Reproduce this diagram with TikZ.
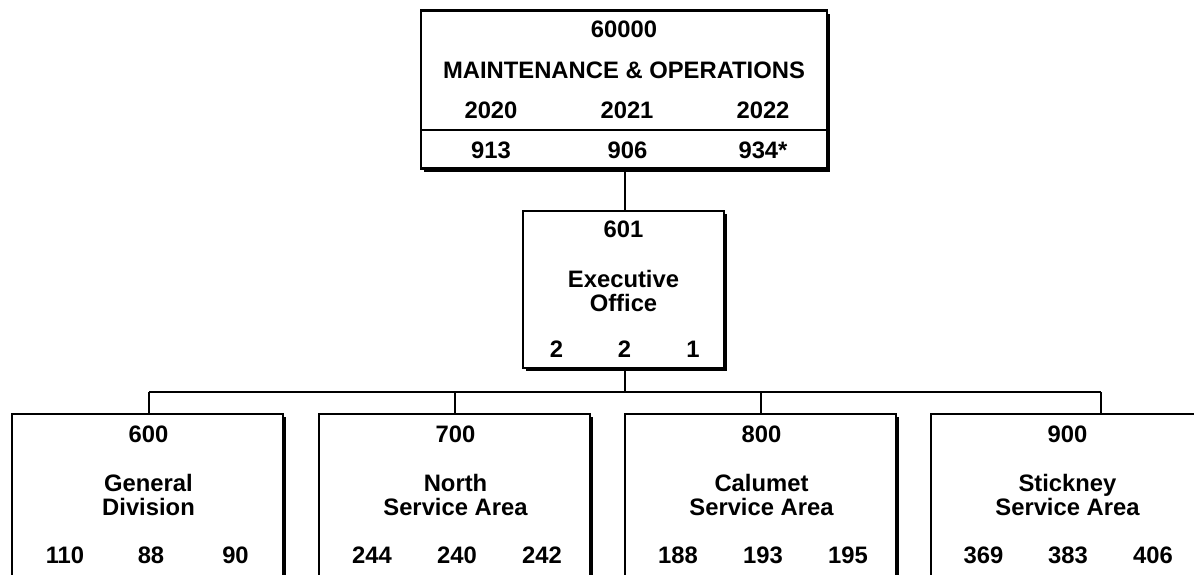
\documentclass[tikz,border=0pt]{standalone}
\usepackage{fontspec}
\setmainfont{Liberation Sans}
\usetikzlibrary{shadows, positioning}

\tikzset{
  unitbox/.style={draw, line width=1.2pt, fill=white, rectangle, inner sep=0pt,
    drop shadow={shadow xshift=1.6pt, shadow yshift=-1.6pt, fill=black, opacity=1}},
  lbl/.style={font=\fontsize{11.9}{12}\selectfont\bfseries, inner sep=0pt, anchor=base},
  unitname/.style={font=\fontsize{11.9}{12}\selectfont\bfseries, inner sep=0pt, align=center},
  link/.style={line width=1pt}
}

\begin{document}
\begin{tikzpicture}[x=0.5pt, y=-0.5pt]
  \useasboundingbox (0,0) rectangle (1194,574);
  \clip (0,0) rectangle (1194,574);

  % top box
  \node[unitbox, minimum width=203pt, minimum height=79pt] (mo) at (624,89.5) {};
  \draw[line width=1.2pt] (421,130) -- (827,130);
  \node[lbl] (mocode) at (624,37.5) {60000};
  \node[lbl] (moname) at (624,78) {MAINTENANCE \& OPERATIONS};
  \node[lbl] (moy1) at (491,118) {2020};
  \node[lbl] (moy2) at (627,118) {2021};
  \node[lbl] (moy3) at (763,118) {2022};
  \node[lbl] (mon1) at (491,158) {913};
  \node[lbl] (mon2) at (627.5,158) {906};
  \node[lbl] (mon3) at (763,158) {934*};

  % executive office
  \node[unitbox, minimum width=100.5pt, minimum height=78.5pt] (exec) at (623.5,289.5) {};
  \node[lbl] (execcode) at (623.5,237) {601};
  \node[unitname] (execname) at (623.5,290.5) {Executive\\Office};
  \node[lbl] (execn1) at (556.5,357) {2};
  \node[lbl] (execn2) at (624.5,357) {2};
  \node[lbl] (execn3) at (693,357) {1};

  % divisions
  \node[unitbox, minimum width=135.5pt, minimum height=90pt] (gen) at (147.5,504) {};
  \node[lbl] (gencode) at (148.5,442) {600};
  \node[unitname] (genname) at (148.5,494.5) {General\\Division};
  \node[lbl] (genn1) at (65,563) {110};
  \node[lbl] (genn2) at (151,563) {88};
  \node[lbl] (genn3) at (235.5,563) {90};

  \node[unitbox, minimum width=135.5pt, minimum height=90pt] (north) at (454.5,504) {};
  \node[lbl] (northcode) at (455.5,442) {700};
  \node[unitname] (northname) at (455.5,494.5) {North\\Service Area};
  \node[lbl] (northn1) at (372,563) {244};
  \node[lbl] (northn2) at (457,563) {240};
  \node[lbl] (northn3) at (542,563) {242};

  \node[unitbox, minimum width=135.5pt, minimum height=90pt] (calumet) at (760.5,504) {};
  \node[lbl] (calumetcode) at (761.5,442) {800};
  \node[unitname] (calumetname) at (761.5,494.5) {Calumet\\Service Area};
  \node[lbl] (calumetn1) at (678,563) {188};
  \node[lbl] (calumetn2) at (763,563) {193};
  \node[lbl] (calumetn3) at (848,563) {195};

  \node[unitbox, minimum width=135.5pt, minimum height=90pt] (stickney) at (1066.5,504) {};
  \node[lbl] (stickneycode) at (1067.5,442) {900};
  \node[unitname] (stickneyname) at (1067.5,494.5) {Stickney\\Service Area};
  \node[lbl] (stickneyn1) at (983.5,563) {369};
  \node[lbl] (stickneyn2) at (1068,563) {383};
  \node[lbl] (stickneyn3) at (1153,563) {406};

  % connectors
  \coordinate (bus) at (625,392);
  \coordinate (busgen) at (149,392);
  \coordinate (busnorth) at (455,392);
  \coordinate (buscal) at (761,392);
  \coordinate (busstk) at (1101,392);
  \draw[link] (mo.south -| bus) -- (exec.north -| bus);
  \draw[link] (exec.south -| bus) -- (bus);
  \draw[link] (busgen) -- (busstk);
  \draw[link] (busgen) -- (gen.north -| busgen);
  \draw[link] (busnorth) -- (north.north -| busnorth);
  \draw[link] (buscal) -- (calumet.north -| buscal);
  \draw[link] (busstk) -- (stickney.north -| busstk);
\end{tikzpicture}
\end{document}
